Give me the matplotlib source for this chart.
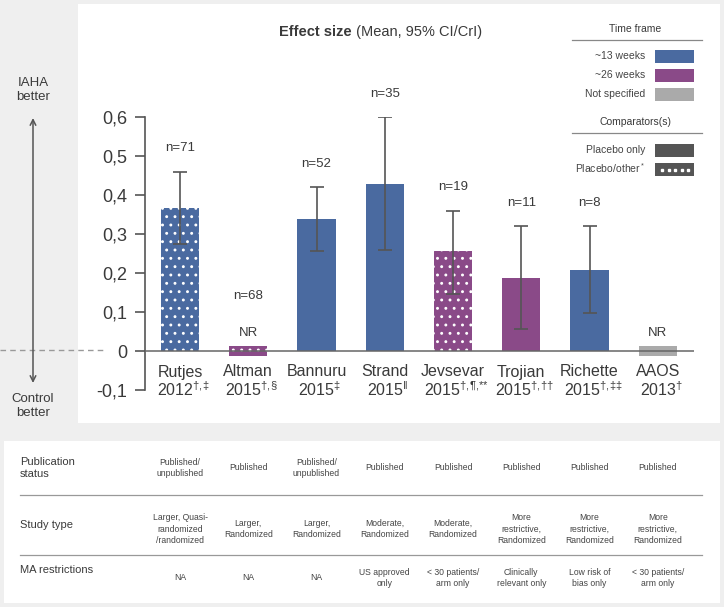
import matplotlib.pyplot as plt
from matplotlib.patches import Rectangle
from matplotlib.transforms import blended_transform_factory

plt.rcParams['font.family'] = ['Liberation Sans', 'DejaVu Sans']
plt.rcParams['mathtext.fontset'] = 'custom'
plt.rcParams['mathtext.rm'] = 'Liberation Sans'
plt.rcParams['hatch.linewidth'] = 0.9

# data
studies = ["Rutjes", "Altman", "Bannuru", "Strand", "Jevsevar", "Trojian", "Richette", "AAOS"]
years = ["2012", "2015", "2015", "2015", "2015", "2015", "2015", "2013"]
notes = [r"{\dagger}{,}{\ddagger}", r"{\dagger}{,}{\S}", r"{\ddagger}", r"{\Vert}",
         r"{\dagger}{,}{\P}{,}{*}{*}", r"{\dagger}{,}{\dagger}{\dagger}",
         r"{\dagger}{,}{\ddagger}{\ddagger}", r"{\dagger}"]
effect = [0.367, None, 0.338, 0.428, 0.257, 0.188, 0.208, None]
ci_low = [0.275, None, 0.256, 0.259, 0.147, 0.057, 0.098, None]
ci_high = [0.46, None, 0.42, 0.60, 0.36, 0.32, 0.32, None]
n_patients = [71, 68, 52, 35, 19, 11, 8, None]
time_frame = ["~13 weeks", "~26 weeks", "~13 weeks", "~13 weeks", "~26 weeks", "~26 weeks",
              "~13 weeks", "Not specified"]
comparator = ["other", "other", "only", "only", "other", "only", "only", "only"]

pub_status = ["Published/\nunpublished", "Published", "Published/\nunpublished", "Published",
              "Published", "Published", "Published", "Published"]
study_type = ["Larger, Quasi-\nrandomized\n/randomized", "Larger,\nRandomized", "Larger,\nRandomized",
              "Moderate,\nRandomized", "Moderate,\nRandomized", "More\nrestrictive,\nRandomized",
              "More\nrestrictive,\nRandomized", "More\nrestrictive,\nRandomized"]
ma_restrictions = ["NA", "NA", "NA", "US approved\nonly", "< 30 patients/\narm only",
                   "Clinically\nrelevant only", "Low risk of\nbias only", "< 30 patients/\narm only"]

colors = {"~13 weeks": "#4a6aa0", "~26 weeks": "#8a4a88", "Not specified": "#aaaaaa"}
dark = "#555555"
txt = "#3a3a3a"
W, H = 724, 607

fig = plt.figure(figsize=(7.24, 6.07), dpi=100)
fig.patch.set_facecolor("#efefef")

# background panels in pixel coordinates
bg = fig.add_axes([0, 0, 1, 1])
bg.set_xlim(0, W)
bg.set_ylim(H, 0)
bg.axis("off")
bg.add_patch(Rectangle((78, 4), 642, 419, facecolor="white", edgecolor="none"))
bg.add_patch(Rectangle((4, 441), 716, 162, facecolor="white", edgecolor="none"))

# chart axes
ax = fig.add_axes([145 / W, 1 - 390 / H, 549 / W, 273 / H])
ax.patch.set_alpha(0)
ax.set_xlim(-0.513, 7.531)
ax.set_ylim(-0.1, 0.6)

for i, s in enumerate(studies):
    col = colors[time_frame[i]]
    hatch = ".." if comparator[i] == "other" else None
    if effect[i] is None:
        ax.bar(i, 0.024, bottom=-0.012, width=0.56, color=col, hatch=hatch,
               edgecolor="white", linewidth=0, zorder=3)
        ax.text(i, 0.046, "NR", ha="center", va="center", fontsize=9.5, color=txt)
    else:
        ax.bar(i, effect[i], width=0.56, color=col, hatch=hatch,
               edgecolor="white", linewidth=0, zorder=2)
        ax.errorbar(i, effect[i], yerr=[[effect[i] - ci_low[i]], [ci_high[i] - effect[i]]],
                    fmt="none", ecolor=dark, elinewidth=1.2, capsize=5, capthick=1.2, zorder=4)
    if n_patients[i] is not None:
        ny = ci_high[i] + 0.06 if ci_high[i] is not None else 0.14
        ax.text(i, ny, f"n={n_patients[i]}", ha="center", va="center", fontsize=9.5,
                color=txt, clip_on=False)

ax.axhline(0, color="#666666", lw=1.1, zorder=5)
for sp in ["top", "right", "bottom"]:
    ax.spines[sp].set_visible(False)
ax.spines["left"].set_color(dark)
ax.spines["left"].set_linewidth(1.2)
ax.set_xticks([])
ax.set_yticks([-0.1, 0, 0.1, 0.2, 0.3, 0.4, 0.5, 0.6])
ax.set_yticklabels(["-0,1", "0", "0,1", "0,2", "0,3", "0,4", "0,5", "0,6"])
ax.tick_params(axis="y", length=7, width=1.2, color=dark, labelsize=13,
               labelcolor=txt, pad=6)

# x labels (x from data, y in pixels)
tr = blended_transform_factory(ax.transData, bg.transData)
for i, s in enumerate(studies):
    bg.text(i, 372, s, transform=tr, ha="center", va="center", fontsize=11.5, color=txt)
    bg.text(i + 0.05, 390, years[i] + "$^{" + notes[i] + "}$", transform=tr, ha="center",
            va="center", fontsize=11.5, color=txt)

# title
t1 = bg.text(279, 32, "Effect size", fontsize=10.5, fontweight="bold", color=txt,
             va="center", ha="left")
bg.annotate(" (Mean, 95% CI/CrI)", xy=(1, 0.5), xycoords=t1, va="center", ha="left",
            fontsize=10.5, color=txt)

# left panel
bg.text(33, 90, "IAHA\nbetter", ha="center", va="center", fontsize=9.5, color=txt,
        linespacing=1.3)
bg.text(33, 406, "Control\nbetter", ha="center", va="center", fontsize=9.5, color=txt,
        linespacing=1.3)
bg.annotate("", xy=(33, 118), xytext=(33, 383),
            arrowprops=dict(arrowstyle="<->", color=dark, lw=1.1, shrinkA=0, shrinkB=0))
bg.plot([0, 104], [350, 350], ls=(0, (4, 3)), color="#999999", lw=1)

# legend
leg_col = {"~13 weeks": 56, "~26 weeks": 75, "Not specified": 94}
bg.text(635, 29, "Time frame", ha="center", va="center", fontsize=7.5, color=txt)
bg.plot([572, 702], [40, 40], color="#888888", lw=0.9)
for lab, y in leg_col.items():
    bg.text(645, y, lab, ha="right", va="center", fontsize=7.5, color="#444444")
    bg.add_patch(Rectangle((655, y - 6.5), 39, 13, facecolor=colors[lab], edgecolor="none"))
bg.text(635, 122, "Comparators(s)", ha="center", va="center", fontsize=7.5, color=txt)
bg.plot([572, 702], [133, 133], color="#888888", lw=0.9)
bg.text(645, 150, "Placebo only", ha="right", va="center", fontsize=7.5, color="#444444")
bg.add_patch(Rectangle((655, 143.5), 39, 13, facecolor=dark, edgecolor="none"))
bg.text(645, 168, "Placebo/other$^*$", ha="right", va="center", fontsize=7.5, color="#444444")
bg.add_patch(Rectangle((655, 163), 39, 13, facecolor=dark, edgecolor="none"))
bg.plot([662, 668.5, 675, 681.5, 688], [169.5] * 5, ls="none", marker="s", ms=1.6,
        color="white")

# table
bg.text(20, 468, "Publication\nstatus", ha="left", va="center", fontsize=8, color=txt,
        linespacing=1.3)
bg.text(20, 525, "Study type", ha="left", va="center", fontsize=8, color=txt)
bg.text(20, 570, "MA restrictions", ha="left", va="center", fontsize=8, color=txt)
bg.plot([20, 702], [495, 495], color="#999999", lw=0.9)
bg.plot([20, 702], [555, 555], color="#999999", lw=0.9)
for i in range(len(studies)):
    bg.text(i, 468, pub_status[i], transform=tr, ha="center", va="center", fontsize=6.2,
            color="#444444", linespacing=1.35)
    bg.text(i, 529, study_type[i], transform=tr, ha="center", va="center", fontsize=6.2,
            color="#444444", linespacing=1.35)
    bg.text(i, 578, ma_restrictions[i], transform=tr, ha="center", va="center", fontsize=6.2,
            color="#444444", linespacing=1.35)

fig.savefig("out.png", dpi=100, facecolor=fig.get_facecolor())
